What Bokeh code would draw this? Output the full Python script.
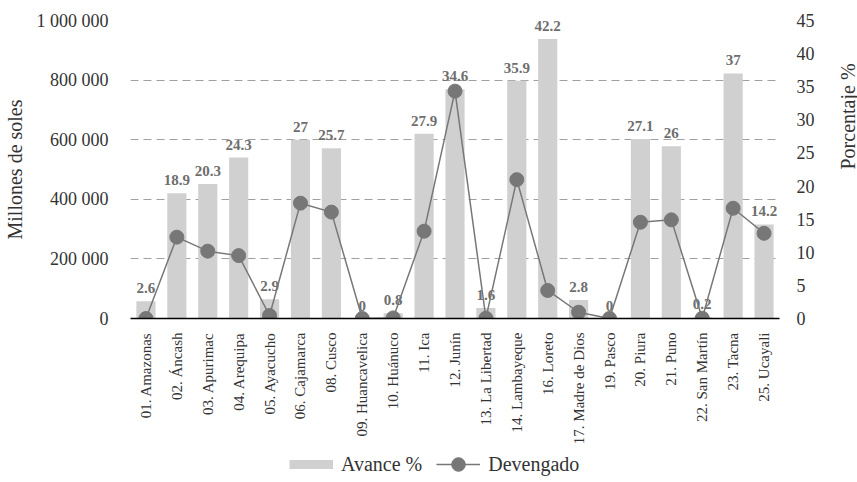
from math import pi
from bokeh.plotting import figure
from bokeh.layouts import column
from bokeh.models import (Range1d, LinearAxis, FactorRange, CustomJSTickFormatter,
                          FixedTicker, Legend, LegendItem, ColumnDataSource)
from bokeh.core.properties import value
from bokeh.embed import file_html
from bokeh.resources import INLINE

regions = ["01. Amazonas", "02. Áncash", "03. Apurimac", "04. Arequipa", "05. Ayacucho",
           "06. Cajamarca", "08. Cusco", "09. Huancavelica", "10. Huánuco", "11. Ica",
           "12. Junín", "13. La Libertad", "14. Lambayeque", "16. Loreto",
           "17. Madre de Dios", "19. Pasco", "20. Piura", "21. Puno", "22. San Martín",
           "23. Tacna", "25. Ucayali"]
avance = [2.6, 18.9, 20.3, 24.3, 2.9, 27, 25.7, 0, 0.8, 27.9, 34.6, 1.6, 35.9, 42.2,
          2.8, 0, 27.1, 26, 0.2, 37, 14.2]
devengado = [0, 273000, 226000, 211000, 10000, 387000, 357000, 0, 2000, 293000, 763000,
             1000, 466000, 94000, 21000, 0, 323000, 331000, 1000, 370000, 286000]
left_ticks = [0, 200000, 400000, 600000, 800000, 1000000]
right_ticks = [0, 5, 10, 15, 20, 25, 30, 35, 40, 45]
series_names = ["Avance %", "Devengado"]

FONT = "Liberation Serif"
TXT = "#333333"
BAR = "#d0d0d0"
LINE = "#777777"

src = ColumnDataSource(dict(x=regions, avance=avance, dev=devengado,
                            lab=[f"{v:g}" for v in avance]))

p = figure(x_range=FactorRange(*regions), y_range=Range1d(0, 1000000),
           frame_width=649, frame_height=298, output_backend="svg",
           toolbar_location=None, min_border_left=0, min_border_right=0,
           min_border_top=20, min_border_bottom=0, outline_line_color=None,
           background_fill_color=None, border_fill_color=None)
p.extra_y_ranges = {"pct": Range1d(0, 45)}

# grid
p.xgrid.visible = False
p.ygrid.ticker = FixedTicker(ticks=left_ticks)
p.ygrid.grid_line_color = "#a0a0a0"
p.ygrid.grid_line_dash = "8 5"
p.ygrid.grid_line_width = 1

# left axis
ya = p.yaxis[0]
ya.ticker = FixedTicker(ticks=left_ticks)
ya.formatter = CustomJSTickFormatter(
    code="return tick.toString().replace(/\\B(?=(\\d{3})+(?!\\d))/g, ' ');")
ya.axis_line_color = None
ya.major_tick_line_color = None
ya.minor_tick_line_color = None
ya.major_label_standoff = 16
ya.major_label_text_font = FONT
ya.major_label_text_font_size = "18px"
ya.major_label_text_color = TXT
ya.axis_label = "Millones de soles"
ya.axis_label_text_font = FONT
ya.axis_label_text_font_size = "20px"
ya.axis_label_text_font_style = "normal"
ya.axis_label_text_color = TXT
ya.axis_label_standoff = 8

# right axis
ra = LinearAxis(y_range_name="pct", ticker=FixedTicker(ticks=right_ticks))
ra.axis_line_color = None
ra.major_tick_line_color = None
ra.minor_tick_line_color = None
ra.major_label_standoff = 11
ra.major_label_text_font = FONT
ra.major_label_text_font_size = "18px"
ra.major_label_text_color = TXT
ra.axis_label = "Porcentaje %"
ra.axis_label_text_font = FONT
ra.axis_label_text_font_size = "20px"
ra.axis_label_text_font_style = "normal"
ra.axis_label_text_color = TXT
ra.axis_label_standoff = 30
if "axis_label_orientation" in ra.properties():
    ra.axis_label_orientation = pi / 2
p.add_layout(ra, "right")

# x axis
xa = p.xaxis[0]
xa.axis_line_color = "#000000"
xa.axis_line_width = 1.5
xa.major_tick_line_color = None
xa.minor_tick_line_color = None
xa.major_tick_out = 0
xa.major_tick_in = 0
xa.major_label_orientation = pi / 2
xa.major_label_standoff = 14
xa.major_label_text_font = FONT
xa.major_label_text_font_size = "15px"
xa.major_label_text_color = TXT

# glyphs
p.vbar(x="x", top="avance", width=0.62, source=src, y_range_name="pct",
       fill_color=BAR, line_color=None)
p.text(x="x", y="avance", text="lab", source=src, y_range_name="pct",
       text_align="center", text_baseline="alphabetic", y_offset=-13,
       text_font=value(FONT), text_font_size="15px", text_font_style="bold",
       text_color="#6e6e6e")
p.line(x="x", y="dev", source=src, line_color=LINE, line_width=1.5)
p.scatter(x="x", y="dev", source=src, size=14, fill_color=LINE, line_color=LINE)

# legend in its own strip (proxy renderers kept outside the visible range)
q = figure(width=841, height=34, x_range=Range1d(0, 1), y_range=Range1d(0, 1),
           output_backend="svg", toolbar_location=None, min_border=0,
           outline_line_color=None, background_fill_color=None,
           border_fill_color=None)
q.axis.visible = False
q.grid.visible = False
proxy = ColumnDataSource(dict(x=[-5, -6], y=[-5, -6]))
lb = q.line(x="x", y="y", source=proxy, line_color=BAR, line_width=9,
            line_cap="butt")
ll = q.line(x="x", y="y", source=proxy, line_color=LINE, line_width=1.5)
ls = q.scatter(x="x", y="y", source=proxy, size=14, fill_color=LINE, line_color=LINE)
legend = Legend(items=[LegendItem(label=series_names[0], renderers=[lb]),
                       LegendItem(label=series_names[1], renderers=[ll, ls])],
                orientation="horizontal", location=(159, 0))
legend.border_line_color = None
legend.background_fill_alpha = 0
legend.label_text_font = FONT
legend.label_text_font_size = "20px"
legend.label_text_color = TXT
legend.glyph_width = 44
legend.glyph_height = 34
legend.label_standoff = 8
legend.spacing = 14
legend.padding = 0
legend.margin = 0
q.add_layout(legend, "center")

open("out.html", "w").write(file_html(column(p, q, spacing=0), INLINE))
